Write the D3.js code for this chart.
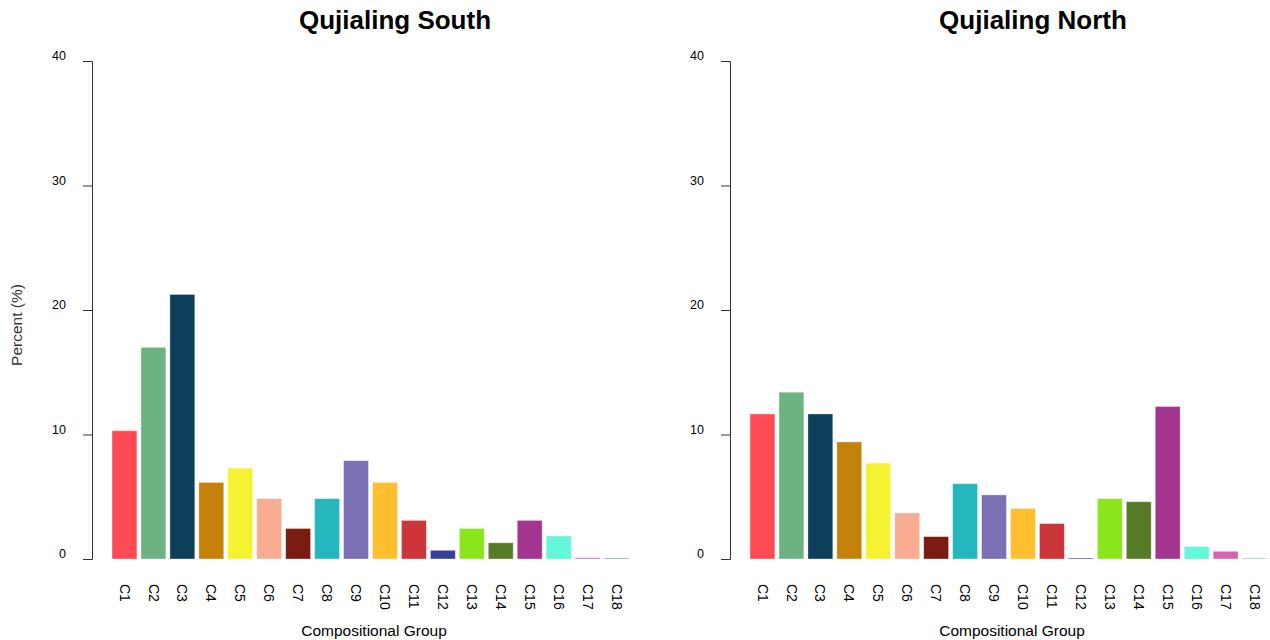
<!DOCTYPE html>
<html>
<head>
<meta charset="utf-8">
<script src="https://cdn.jsdelivr.net/npm/d3@7"></script>
<style>
  body { margin: 0; background: #fff; }
  svg { display: block; }
  text { font-family: "Liberation Sans", Arial, sans-serif; }
</style>
</head>
<body>
<svg id="chart" width="1270" height="640"></svg>
<script>
const categories = ["C1","C2","C3","C4","C5","C6","C7","C8","C9","C10","C11","C12","C13","C14","C15","C16","C17","C18"];
const southValues = [10.3, 17.0, 21.25, 6.15, 7.3, 4.85, 2.45, 4.85, 7.9, 6.15, 3.1, 0.7, 2.45, 1.3, 3.1, 1.85, 0.1, 0.08];
const northValues = [11.65, 13.4, 11.65, 9.4, 7.7, 3.7, 1.8, 6.05, 5.15, 4.05, 2.85, 0.08, 4.85, 4.6, 12.25, 1.0, 0.62, 0.06];
const barColors = ["#FF4B55","#6DB381","#0B3F5A","#C4820A","#F5F232","#F8AC92","#7A1C10","#25B7BE","#7B71B4","#FFBF2E","#CC353A","#3A3F91","#8AE51A","#567A25","#A3358E","#62F8DA","#D463B0","#6FA89A"];
const yTicks = [0, 10, 20, 30, 40];
const panels = [
  { title: "Qujialing South", values: southValues, offset: 0, showYTitle: true },
  { title: "Qujialing North", values: northValues, offset: 638, showYTitle: false }
];

const svg = d3.select("#chart");

panels.forEach(p => {
  const g = svg.append("g").attr("transform", `translate(${p.offset},0)`);
  const x = d3.scaleBand().domain(categories).range([110, 631]).paddingInner(0.14).paddingOuter(0.07);
  const y = d3.scaleLinear().domain([0, 40]).range([559, 61]);

  // bars
  g.selectAll("rect.bar").data(categories).join("rect")
    .attr("class", "bar")
    .attr("x", d => x(d))
    .attr("width", x.bandwidth())
    .attr("y", (d, i) => y(p.values[i]))
    .attr("height", (d, i) => y(0) - y(p.values[i]))
    .attr("fill", (d, i) => barColors[i])
    .attr("stroke", "#ffffff")
    .attr("stroke-opacity", 0.45)
    .attr("stroke-width", 0.8);

  // y axis
  const yAxis = d3.axisLeft(y).tickValues(yTicks).tickSize(9).tickPadding(17).tickFormat(d3.format("d"));
  const ya = g.append("g").attr("transform", "translate(92,0)").call(yAxis);
  ya.select(".domain").attr("stroke", "#333").attr("d", "M-9,61.5H0.5V559.5H-9");
  ya.selectAll(".tick line").attr("stroke", "#333");
  ya.selectAll(".tick text").attr("font-size", 12.5).attr("fill", "#000")
    .attr("font-family", "Liberation Sans, Arial, sans-serif").attr("dy", "-0.1em");

  // x labels
  const xl = g.append("g");
  xl.selectAll("text").data(categories).join("text")
    .attr("transform", d => `translate(${x(d) + x.bandwidth() / 2},584) rotate(90)`)
    .attr("dy", "0.35em")
    .attr("text-anchor", "start")
    .attr("font-size", 14)
    .attr("fill", "#000")
    .text(d => d);

  // x title
  g.append("text")
    .attr("x", 374).attr("y", 636)
    .attr("text-anchor", "middle")
    .attr("font-size", 15.5)
    .attr("fill", "#000")
    .text("Compositional Group");

  // title
  g.append("text")
    .attr("x", 395).attr("y", 29)
    .attr("text-anchor", "middle")
    .attr("font-size", 26)
    .attr("font-weight", "bold")
    .attr("fill", "#000")
    .text(p.title);

  if (p.showYTitle) {
    g.append("text")
      .attr("transform", "translate(22,325) rotate(-90)")
      .attr("text-anchor", "middle")
      .attr("font-size", 15.5)
      .attr("fill", "#333")
      .text("Percent (%)");
  }
});
</script>
</body>
</html>
